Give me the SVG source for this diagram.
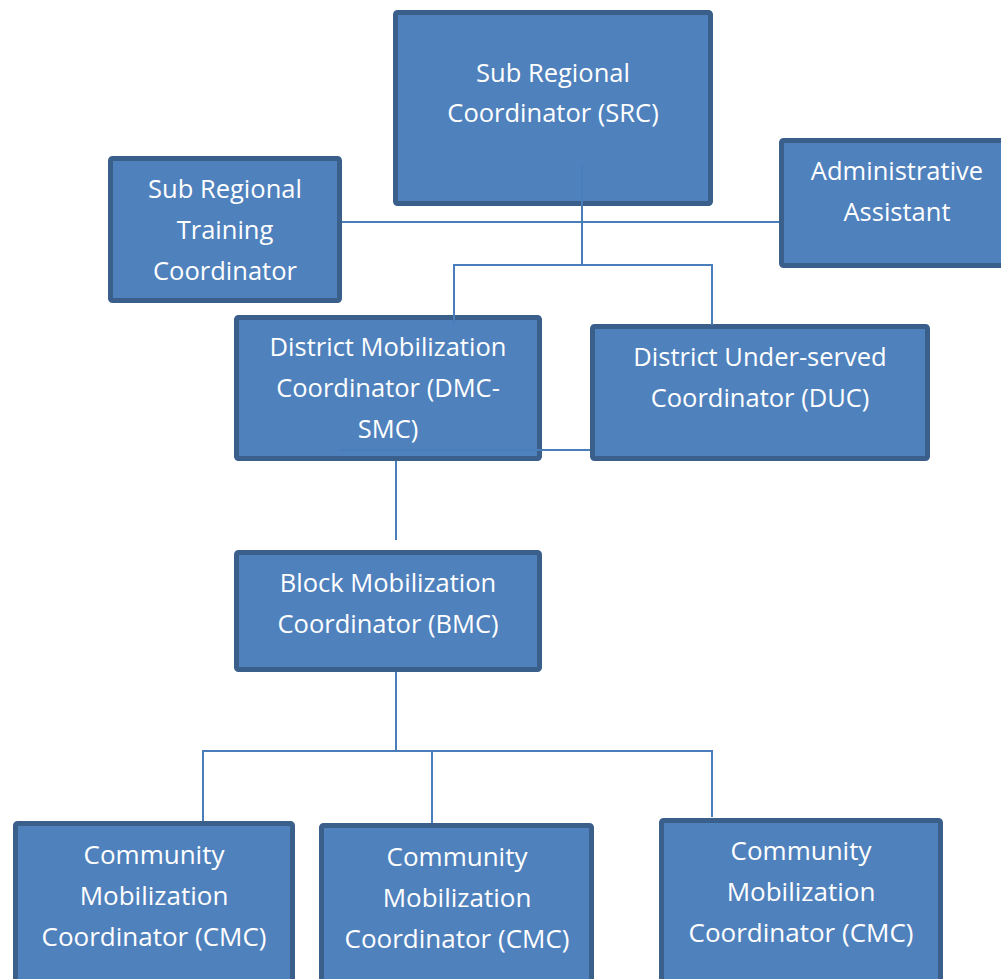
<svg xmlns="http://www.w3.org/2000/svg" width="1001" height="979" viewBox="0 0 1001 979">
<style>
.box{fill:#4F81BD;stroke:#3A5F8B;stroke-width:5;}
.lbl{font-family:"Open Sans","Noto Sans",sans-serif;font-size:25.5px;fill:#FFFFFF;text-anchor:middle;}
.big{font-size:26px;}
.con{fill:none;stroke:#4A7EBB;stroke-width:2;}
</style>
<rect width="1001" height="979" fill="#FFFFFF"/>
<g id="src">
<rect class="box" x="395.5" y="12.5" width="315" height="191" rx="2"/>
<text class="lbl" x="553" y="82">Sub Regional</text>
<text class="lbl" x="553" y="122">Coordinator (SRC)</text>
</g>
<g id="srtc">
<rect class="box" x="110.5" y="158.5" width="229" height="142" rx="2"/>
<text class="lbl" x="225" y="198">Sub Regional</text>
<text class="lbl" x="225" y="239">Training</text>
<text class="lbl" x="225" y="280">Coordinator</text>
</g>
<g id="admin">
<rect class="box" x="781.5" y="140.5" width="230" height="125" rx="2"/>
<text class="lbl" x="897" y="180">Administrative</text>
<text class="lbl" x="897" y="221">Assistant</text>
</g>
<g id="dmc">
<rect class="box" x="236.5" y="317.5" width="303" height="141" rx="2"/>
<text class="lbl" x="388" y="356">District Mobilization</text>
<text class="lbl" x="388" y="397">Coordinator (DMC-</text>
<text class="lbl" x="388" y="438">SMC)</text>
</g>
<g id="duc">
<rect class="box" x="592.5" y="326.5" width="335" height="132" rx="2"/>
<text class="lbl" x="760" y="366">District Under-served</text>
<text class="lbl" x="760" y="407">Coordinator (DUC)</text>
</g>
<g id="bmc">
<rect class="box" x="236.5" y="552.5" width="303" height="117" rx="2"/>
<text class="lbl" x="388" y="592">Block Mobilization</text>
<text class="lbl" x="388" y="633">Coordinator (BMC)</text>
</g>
<g id="cmc1">
<rect class="box" x="15.5" y="823.5" width="277" height="170" rx="2"/>
<text class="lbl big" x="154" y="864">Community</text>
<text class="lbl big" x="154" y="905">Mobilization</text>
<text class="lbl big" x="154" y="946">Coordinator (CMC)</text>
</g>
<g id="cmc2">
<rect class="box" x="321.5" y="825.5" width="270" height="170" rx="2"/>
<text class="lbl big" x="457" y="866">Community</text>
<text class="lbl big" x="457" y="907">Mobilization</text>
<text class="lbl big" x="457" y="948">Coordinator (CMC)</text>
</g>
<g id="cmc3">
<rect class="box" x="661.5" y="820.5" width="279" height="170" rx="2"/>
<text class="lbl big" x="801" y="860">Community</text>
<text class="lbl big" x="801" y="901">Mobilization</text>
<text class="lbl big" x="801" y="942">Coordinator (CMC)</text>
</g>
<g id="connectors">
<path class="con" d="M582 165 V265"/>
<path class="con" d="M342 222 H779"/>
<path class="con" d="M454 325 V265 H712 V325"/>
<path class="con" d="M340 450 H590"/>
<path class="con" d="M396 461 V540"/>
<path class="con" d="M396 672 V751"/>
<path class="con" d="M203 821 V751 H712 V817"/>
<path class="con" d="M432 751 V823"/>
</g>
</svg>
